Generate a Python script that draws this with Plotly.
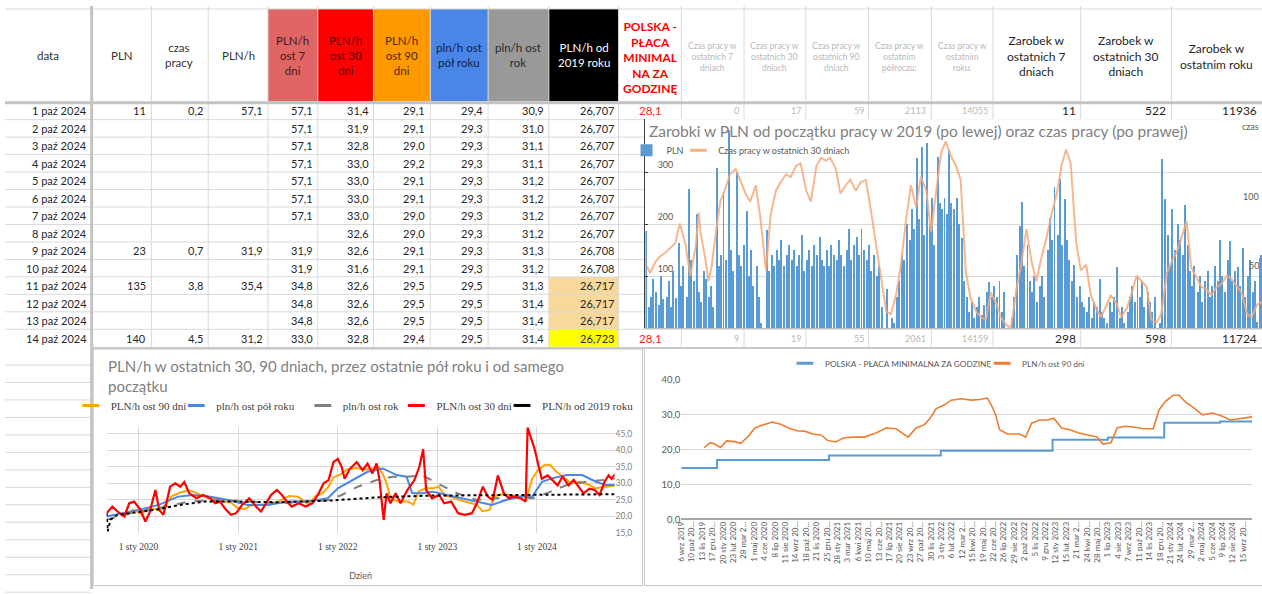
import plotly.graph_objects as go

W, H = 1262, 594
def px(x): return x / W
def py(y): return 1 - y / H

# ---------------- spreadsheet data ----------------
row_labels = ["1 paź 2024", "2 paź 2024", "3 paź 2024", "4 paź 2024", "5 paź 2024", "6 paź 2024",
              "7 paź 2024", "8 paź 2024", "9 paź 2024", "10 paź 2024", "11 paź 2024", "12 paź 2024",
              "13 paź 2024", "14 paź 2024"]
row_iso = ["2024-10-01", "2024-10-02", "2024-10-03", "2024-10-04", "2024-10-05", "2024-10-06", "2024-10-07",
           "2024-10-08", "2024-10-09", "2024-10-10", "2024-10-11", "2024-10-12", "2024-10-13", "2024-10-14"]
pln = [11, None, None, None, None, None, None, None, 23, None, 135, None, None, 140]
czas_pracy = [0.2, None, None, None, None, None, None, None, 0.7, None, 3.8, None, None, 4.5]
pln_h = [57.1, None, None, None, None, None, None, None, 31.9, None, 35.4, None, None, 31.2]
pln_h_7 = [57.1, 57.1, 57.1, 57.1, 57.1, 57.1, 57.1, None, 31.9, 31.9, 34.8, 34.8, 34.8, 33.0]
pln_h_30 = [31.4, 31.9, 32.8, 33.0, 33.0, 33.0, 33.0, 32.6, 32.6, 31.6, 32.6, 32.6, 32.6, 32.8]
pln_h_90 = [29.1, 29.1, 29.0, 29.2, 29.1, 29.1, 29.0, 29.0, 29.1, 29.1, 29.5, 29.5, 29.5, 29.4]
pln_h_half = [29.4, 29.3, 29.3, 29.3, 29.3, 29.3, 29.3, 29.3, 29.3, 29.3, 29.5, 29.5, 29.5, 29.5]
pln_h_year = [30.9, 31.0, 31.1, 31.1, 31.2, 31.2, 31.2, 31.2, 31.3, 31.2, 31.3, 31.4, 31.4, 31.4]
pln_h_all = [26.707, 26.707, 26.707, 26.707, 26.707, 26.707, 26.707, 26.707, 26.708, 26.708,
             26.717, 26.717, 26.717, 26.723]
summary_first = [28.1, 0, 17, 59, 2113, 14055, 11, 522, 11936]
summary_last = [28.1, 9, 19, 55, 2061, 14159, 298, 598, 11724]

# ---------------- chart 1: daily earnings + hours in last 30 days ----------------
bar_days = [4, 11, 18, 25]
pln_months = ["2019-09", "2019-10", "2019-11", "2019-12",
              "2020-01", "2020-02", "2020-03", "2020-04", "2020-05", "2020-06", "2020-07", "2020-08",
              "2020-09", "2020-10", "2020-11", "2020-12",
              "2021-01", "2021-02", "2021-03", "2021-04", "2021-05", "2021-06", "2021-07", "2021-08",
              "2021-09", "2021-10", "2021-11", "2021-12",
              "2022-01", "2022-02", "2022-03", "2022-04", "2022-05", "2022-06", "2022-07", "2022-08",
              "2022-09", "2022-10", "2022-11", "2022-12",
              "2023-01", "2023-02", "2023-03", "2023-04", "2023-05", "2023-06", "2023-07", "2023-08",
              "2023-09", "2023-10", "2023-11", "2023-12",
              "2024-01", "2024-02", "2024-03", "2024-04", "2024-05", "2024-06", "2024-07", "2024-08",
              "2024-09"]
pln_weekly = [
    [187, 40, 60, 95], [70, 45, 100, 55], [60, 90, 40, 110], [57, 164, 80, 120],
    [60, 268, 130, 90], [220, 70, 50, 110], [94, 60, 80, 40], [309, 120, 140, 262],
    [130, 381, 150, 110], [300, 140, 120, 160], [226, 100, 150, 80], [120, 60, 10, 0],
    [189, 110, 140, 120], [150, 130, 170, 120], [140, 160, 130, 150], [120, 140, 180, 110],
    [130, 150, 120, 160], [140, 175, 130, 120], [150, 120, 160, 140], [130, 170, 140, 120],
    [150, 190, 130, 160], [175, 140, 190, 150], [130, 160, 110, 140], [100, 120, 40, 0],
    [75, 0, 20, 10], [60, 90, 140, 130], [200, 170, 230, 190], [328, 210, 349, 180],
    [357, 200, 250, 160], [330, 240, 230, 250], [220, 343, 240, 230], [250, 200, 174, 90],
    [60, 30, 50, 20], [40, 60, 25, 45], [70, 89, 60, 80], [60, 90, 30, 70],
    [0, 0, 20, 60], [140, 196, 243, 120], [160, 90, 70, 100], [50, 80, 100, 60],
    [150, 211, 170, 271], [180, 287, 160, 249], [170, 130, 90, 122], [60, 80, 50, 40],
    [30, 60, 20, 50], [40, 94, 30, 20], [10, 50, 30, 60], [117, 20, 40, 10],
    [30, 60, 80, 50], [98, 60, 90, 40], [70, 50, 30, 60], [0, 10, 325, 249],
    [180, 120, 230, 150], [200, 170, 140, 236], [160, 110, 80, 120], [70, 100, 50, 90],
    [110, 60, 80, 120], [90, 170, 100, 70], [130, 168, 90, 110], [117, 80, 155, 60],
    [100, 130, 70, 90]]

czas30_dates = ["2019-09-06", "2019-09-15", "2019-10-01", "2019-10-15", "2019-11-01", "2019-11-15",
                "2019-12-01", "2019-12-10", "2019-12-15",
                "2020-01-01", "2020-01-15", "2020-02-01", "2020-02-10", "2020-02-15", "2020-03-01",
                "2020-03-10", "2020-03-20", "2020-04-01", "2020-04-15", "2020-05-01", "2020-05-15",
                "2020-06-01", "2020-06-15", "2020-07-01", "2020-07-15", "2020-08-01", "2020-08-15",
                "2020-09-01", "2020-09-15", "2020-10-01", "2020-10-15", "2020-11-01", "2020-11-15",
                "2020-12-01", "2020-12-15",
                "2021-01-01", "2021-01-15", "2021-02-01", "2021-02-15", "2021-03-01", "2021-03-15",
                "2021-04-01", "2021-04-15", "2021-05-01", "2021-05-15", "2021-06-01", "2021-06-15",
                "2021-07-01", "2021-07-15", "2021-08-01", "2021-08-15", "2021-09-01", "2021-09-15",
                "2021-10-01", "2021-10-15", "2021-11-01", "2021-11-15", "2021-12-01", "2021-12-15",
                "2022-01-01", "2022-01-15", "2022-02-01", "2022-02-15", "2022-03-01", "2022-03-15",
                "2022-04-01", "2022-04-15", "2022-05-01", "2022-05-15", "2022-06-01", "2022-06-15",
                "2022-07-01", "2022-07-15", "2022-08-01", "2022-08-15", "2022-09-01", "2022-09-15",
                "2022-10-01", "2022-10-15", "2022-11-01", "2022-11-15", "2022-12-01", "2022-12-15",
                "2023-01-01", "2023-01-15", "2023-02-01", "2023-02-15", "2023-03-01", "2023-03-15",
                "2023-04-01", "2023-04-15", "2023-05-01", "2023-05-15", "2023-06-01", "2023-06-15",
                "2023-07-01", "2023-07-15", "2023-08-01", "2023-08-15", "2023-09-01", "2023-09-15",
                "2023-10-01", "2023-10-15", "2023-11-01", "2023-11-15", "2023-12-01", "2023-12-15",
                "2024-01-01", "2024-01-15", "2024-02-01", "2024-02-15", "2024-03-01", "2024-03-15",
                "2024-04-01", "2024-04-15", "2024-05-01", "2024-05-15", "2024-06-01", "2024-06-15",
                "2024-07-01", "2024-07-15", "2024-08-01", "2024-08-15", "2024-09-01", "2024-09-15",
                "2024-10-01", "2024-10-14"]
czas30_vals = [45, 40, 48, 52, 55, 58, 62, 72, 76,
               60, 38, 60, 84, 70, 50, 34, 45, 68, 92, 102, 112, 116, 108, 98, 92, 104, 80, 42, 82,
               100, 106, 112, 110, 118, 120,
               100, 92, 118, 124, 122, 124, 116, 98, 104, 108, 100, 106, 108, 88, 62, 38, 12, 10,
               24, 45, 80, 104, 88, 110,
               100, 70, 104, 128, 136, 126, 118, 108, 40, 22, 12, 8, 6, 26, 18, 8, 2, 0,
               28, 45, 72, 50, 34, 50,
               66, 82, 98, 118, 130, 120, 62, 42, 46, 24, 14, 8, 16, 24, 18, 8, 14, 24,
               38, 34, 30, 6, 4, 10,
               40, 48, 56, 66, 78, 44, 36, 30, 28, 24, 30, 32, 38, 36, 30, 26, 10, 8, 17, 19]

# ---------------- chart 2: PLN/h averages ----------------
o90_dates = ["2019-11-20", "2019-12-10", "2019-12-23",
             "2020-01-12", "2020-02-01", "2020-02-27", "2020-03-18", "2020-04-13", "2020-05-03",
             "2020-05-29", "2020-06-30", "2020-07-27", "2020-08-22", "2020-09-17", "2020-10-13",
             "2020-11-09", "2020-12-05", "2020-12-28",
             "2021-01-23", "2021-02-18", "2021-03-23", "2021-04-25", "2021-06-03", "2021-07-06",
             "2021-08-08", "2021-09-03", "2021-09-16", "2021-10-12", "2021-11-08", "2021-11-27",
             "2021-12-17",
             "2022-01-12", "2022-02-04", "2022-03-09", "2022-04-11", "2022-05-07", "2022-06-02",
             "2022-06-15", "2022-06-29", "2022-07-12", "2022-08-07", "2022-09-15", "2022-10-05",
             "2022-10-25", "2022-11-20", "2022-12-16",
             "2023-01-05", "2023-01-31", "2023-02-26", "2023-03-28", "2023-04-30", "2023-05-26",
             "2023-06-15", "2023-07-11", "2023-07-31", "2023-08-26", "2023-09-21", "2023-10-24",
             "2023-11-26", "2023-12-15",
             "2024-01-04", "2024-01-30", "2024-02-19", "2024-03-09", "2024-04-05", "2024-05-05",
             "2024-06-07", "2024-07-09", "2024-08-04", "2024-08-30", "2024-09-25", "2024-10-14"]
o90_vals = [20.6, 22.0, 21.7,
            20.6, 22.5, 22.3, 21.8, 23.9, 26.2, 27.1, 27.9, 27.3, 26.2, 25.4, 25.3, 24.5, 24.2, 22.6,
            22.2, 23.4, 23.6, 23.6, 24.8, 26.2, 26.0, 24.5, 23.6, 26.2, 27.1, 29.0, 31.8,
            32.8, 34.2, 34.6, 34.2, 34.4, 34.8, 32.8, 30.0, 25.7, 24.5, 24.5, 23.6, 27.6, 28.5, 28.5,
            29.0, 26.2, 25.7, 24.8, 24.2, 23.6, 21.6, 22.0, 26.2, 26.7, 26.5, 26.0, 26.0, 31.4,
            33.8, 35.6, 35.6, 33.8, 32.1, 30.0, 30.5, 29.6, 28.5, 28.8, 29.2, 29.4]

half_dates = ["2019-09-06", "2020-01-01", "2020-03-15", "2020-05-25", "2020-07-20", "2020-09-15",
              "2020-11-25", "2021-02-05", "2021-04-20", "2021-07-01", "2021-09-15", "2021-11-25",
              "2022-01-01", "2022-02-25", "2022-04-20", "2022-06-15", "2022-08-05", "2022-09-10",
              "2022-10-01", "2022-11-05", "2022-12-15", "2023-02-05", "2023-04-01", "2023-05-25",
              "2023-07-20", "2023-09-10", "2023-11-05", "2023-12-15", "2024-01-20", "2024-02-25",
              "2024-04-20", "2024-06-15", "2024-08-05", "2024-09-10", "2024-10-14"]
half_vals = [20, 22, 23.5, 26, 26.5, 26, 25, 23.5, 23.5, 24.5, 24.5, 25.5,
             28.5, 31, 33.5, 34.5, 32.5, 32, 27, 27, 27.5, 26.5, 25.5, 24.5,
             23.5, 25, 26, 26, 30.5, 31.5, 32.5, 32.5, 30.5, 29.5, 29.5]

year_dates = ["2019-09-06", "2019-12-01", "2020-03-15", "2020-07-01", "2020-11-01", "2021-02-15",
              "2021-06-01", "2021-09-15", "2021-12-01", "2022-01-15", "2022-03-15", "2022-05-25",
              "2022-07-20", "2022-09-15", "2022-11-05", "2023-01-01", "2023-03-15", "2023-05-25",
              "2023-08-01", "2023-10-15", "2023-12-15", "2024-02-05", "2024-04-20", "2024-07-01",
              "2024-10-14"]
year_vals = [19, 21, 22.5, 24.5, 25, 24.5, 24, 24.5, 25, 26.5, 29, 31,
             32, 32, 32.5, 30, 27, 25, 25.5, 26, 25.5, 27, 29.5, 30.5, 31.4]

all_dates = ["2019-09-06", "2019-09-10", "2019-09-20", "2019-10-15", "2019-12-01", "2020-03-01",
             "2020-06-01", "2020-09-01", "2021-01-01", "2021-06-01", "2021-12-01", "2022-06-01",
             "2022-12-01", "2023-06-01", "2023-12-01", "2024-06-01", "2024-10-14"]
all_vals = [21, 15.5, 19, 20.5, 21, 22, 23.5, 24.5, 24.5, 24.3, 24.8, 25.8,
            26.3, 26.4, 26.4, 26.6, 26.72]

r30_dates = ["2019-09-06", "2019-09-27", "2019-10-16", "2019-11-10", "2019-11-28", "2019-12-16",
             "2020-01-08", "2020-01-26", "2020-02-10", "2020-02-24", "2020-03-03", "2020-03-17",
             "2020-04-01", "2020-04-12", "2020-04-26", "2020-05-15", "2020-06-02", "2020-06-17",
             "2020-07-05", "2020-07-31", "2020-08-25", "2020-09-20", "2020-10-08", "2020-10-26",
             "2020-11-17", "2020-12-05", "2020-12-24",
             "2021-01-15", "2021-02-10", "2021-03-07", "2021-03-25", "2021-04-13", "2021-05-01",
             "2021-05-23", "2021-06-10", "2021-06-28", "2021-07-16", "2021-08-11", "2021-09-05",
             "2021-10-01", "2021-10-23", "2021-11-10", "2021-11-28", "2021-12-16",
             "2022-01-01", "2022-01-15", "2022-01-26", "2022-02-14", "2022-03-11", "2022-04-02",
             "2022-04-20", "2022-05-08", "2022-05-23", "2022-06-03", "2022-06-18", "2022-06-29",
             "2022-07-13", "2022-08-01", "2022-08-19", "2022-09-13", "2022-10-09", "2022-10-27",
             "2022-11-10", "2022-11-21", "2022-12-13",
             "2023-01-08", "2023-01-26", "2023-02-21", "2023-03-18", "2023-04-12", "2023-05-08",
             "2023-05-26", "2023-06-17", "2023-07-05", "2023-07-23", "2023-08-11", "2023-09-02",
             "2023-09-20", "2023-10-08", "2023-11-03", "2023-11-21", "2023-11-28", "2023-12-13",
             "2023-12-24",
             "2024-01-08", "2024-01-19", "2024-02-10", "2024-02-28", "2024-03-17", "2024-04-04",
             "2024-04-26", "2024-05-15", "2024-06-02", "2024-06-20", "2024-07-12", "2024-07-31",
             "2024-08-18", "2024-09-05", "2024-09-20", "2024-10-01", "2024-10-14"]
r30_vals = [21, 23, 21.5, 20, 24, 24.5,
            22, 18.5, 21, 25.5, 28, 22, 20.5, 24, 29, 30, 29, 30.4, 27, 25.5, 26.5, 25.5, 24, 24.5,
            22, 20.5, 21,
            23.5, 25.5, 23, 21.5, 24, 26.5, 28, 26.5, 24.5, 23, 24, 23, 24, 27, 30, 31, 36.4,
            37.4, 35, 31.4, 34.4, 36.4, 34, 36, 33, 36, 31, 19, 27, 24, 27, 24, 28, 31, 35, 40.3,
            28, 25.5,
            26.5, 24, 24.5, 21, 20.5, 21, 24, 29, 26, 25, 32.4, 27, 25.5, 26, 25.5, 24.5, 46.8,
            42.8, 40.3,
            35, 31.4, 32.4, 31, 29.4, 32, 29.4, 31, 29, 27, 28.4, 28, 26.5, 30.4, 32.4, 31.4, 32.8]

year_tick_vals = ["2020-01-01", "2021-01-01", "2022-01-01", "2023-01-01", "2024-01-01"]
year_tick_text = ["1 sty 2020", "1 sty 2021", "1 sty 2022", "1 sty 2023", "1 sty 2024"]

# ---------------- chart 3: minimal wage vs PLN/h 90 days ----------------
minwage_dates = ["2019-09-06", "2020-01-01", "2021-01-01", "2022-01-01", "2023-01-01",
                 "2023-07-01", "2024-01-01", "2024-07-01", "2024-10-14"]
minwage_vals = [14.7, 17.0, 18.3, 19.7, 22.8, 23.5, 27.7, 28.1, 28.1]

cat_tick_vals = ["2019-09-06", "2019-10-10", "2019-11-13", "2019-12-17", "2020-01-20", "2020-02-23",
                 "2020-03-28", "2020-05-01", "2020-06-04", "2020-07-08", "2020-08-11", "2020-09-14",
                 "2020-10-18", "2020-11-21", "2020-12-25", "2021-01-28", "2021-03-03", "2021-04-06",
                 "2021-05-10", "2021-06-13", "2021-07-17", "2021-08-20", "2021-09-23", "2021-10-27",
                 "2021-11-30", "2022-01-03", "2022-02-06", "2022-03-12", "2022-04-15", "2022-05-19",
                 "2022-06-22", "2022-07-26", "2022-08-29", "2022-10-02", "2022-11-05", "2022-12-09",
                 "2023-01-12", "2023-02-15", "2023-03-21", "2023-04-24", "2023-05-28", "2023-07-01",
                 "2023-08-04", "2023-09-07", "2023-10-11", "2023-11-14", "2023-12-18", "2024-01-21",
                 "2024-02-24", "2024-03-29", "2024-05-02", "2024-06-05", "2024-07-09", "2024-08-12",
                 "2024-09-15"]
cat_tick_text = ["6 wrz 2019", "10 paź 20...", "13 lis 2019", "17 gru 20...", "20 sty 2020",
                 "23 lut 2020", "28 mar 2...", "1 maj 2020", "4 cze 2020", "8 lip 2020", "11 sie 2020",
                 "14 wrz 20...", "18 paź 20...", "21 lis 2020", "25 gru 20...", "28 sty 2021",
                 "3 mar 2021", "6 kwi 2021", "10 maj 20...", "13 cze 20...", "17 lip 2021",
                 "20 sie 2021", "23 wrz 20...", "27 paź 20...", "30 lis 2021", "3 sty 2022",
                 "6 lut 2022", "12 mar 2...", "15 kwi 20...", "19 maj 20...", "22 cze 20...",
                 "26 lip 2022", "29 sie 2022", "2 paź 2022", "5 lis 2022", "9 gru 2022",
                 "12 sty 2023", "15 lut 2023", "21 mar 2...", "24 kwi 20...", "28 maj 20...",
                 "1 lip 2023", "4 sie 2023", "7 wrz 2023", "11 paź 20...", "14 lis 2023",
                 "18 gru 20...", "21 sty 2024", "24 lut 2024", "29 mar 2...", "2 maj 2024",
                 "5 cze 2024", "9 lip 2024", "12 sie 2024", "15 wrz 20..."]

# ================================================================
FONT = "Lato"
SERIF = "Liberation Serif"
GRID = "#d9d9d9"
fig = go.Figure()

# ---- chart 1 traces ----
bar_x, bar_y = [], []
for m, vals in zip(pln_months, pln_weekly):
    for d, v in zip(bar_days, vals):
        bar_x.append(f"{m}-{d:02d}")
        bar_y.append(v)
for d, v in zip(row_iso, pln):
    if v is not None:
        bar_x.append(d)
        bar_y.append(v)
fig.add_trace(go.Bar(x=bar_x, y=bar_y, width=6 * 86400000, marker=dict(color="#5B9BD5", line_width=0),
                     name="PLN", xaxis="x", yaxis="y", legend="legend"))
fig.add_trace(go.Scatter(x=czas30_dates, y=czas30_vals, mode="lines", line=dict(color="rgba(244,170,125,0.85)", width=2),
                         name="Czas pracy w ostatnich 30 dniach", xaxis="x", yaxis="y2", showlegend=False))
fig.add_trace(go.Scatter(x=[None], y=[None], mode="markers", name="Czas pracy w ostatnich 30 dniach",
                         marker=dict(symbol="line-ew", size=12, line=dict(color="#F4B183", width=3)),
                         xaxis="x", yaxis="y2", legend="legend2"))

# ---- chart 2 traces ----
c2 = [
    ("PLN/h ost 90 dni", o90_dates, o90_vals, "#FFA500", "solid", 2, "legend3"),
    ("pln/h ost pół roku", half_dates, half_vals, "#4A86E8", "solid", 2, "legend4"),
    ("pln/h ost rok", year_dates, year_vals, "#7F7F7F", "dash", 2, "legend5"),
    ("PLN/h ost 30 dni", r30_dates, r30_vals, "#FF0000", "solid", 2.2, "legend6"),
    ("PLN/h od 2019 roku", all_dates, all_vals, "#000000", "dot", 2, "legend7"),
]
for name, xs, ys, col, dash, wdt, lg in c2:
    fig.add_trace(go.Scatter(x=xs, y=ys, mode="lines", line=dict(color=col, width=wdt, dash=dash),
                             name=name, xaxis="x2", yaxis="y3", showlegend=False))
    fig.add_trace(go.Scatter(x=[None], y=[None], mode="markers", name=name,
                             marker=dict(symbol="line-ew", size=12, line=dict(color=col, width=3)),
                             xaxis="x2", yaxis="y3", legend=lg))

# ---- chart 3 traces ----
fig.add_trace(go.Scatter(x=minwage_dates, y=minwage_vals, mode="lines", line=dict(color="#5B9BD5", width=2, shape="hv"),
                         name="POLSKA - PŁACA MINIMALNA ZA GODZINĘ", xaxis="x3", yaxis="y4", showlegend=False))
fig.add_trace(go.Scatter(x=o90_dates, y=o90_vals, mode="lines", line=dict(color="#ED7D31", width=1.6),
                         name="PLN/h ost 90 dni", xaxis="x3", yaxis="y4", showlegend=False))
fig.add_trace(go.Scatter(x=[None], y=[None], mode="markers", name="POLSKA - PŁACA MINIMALNA ZA GODZINĘ",
                         marker=dict(symbol="line-ew", size=12, line=dict(color="#5B9BD5", width=3)),
                         xaxis="x3", yaxis="y4", legend="legend8"))
fig.add_trace(go.Scatter(x=[None], y=[None], mode="markers", name="PLN/h ost 90 dni",
                         marker=dict(symbol="line-ew", size=12, line=dict(color="#ED7D31", width=3)),
                         xaxis="x3", yaxis="y4", legend="legend9"))

# ---------------- shapes: spreadsheet grid ----------------
shapes = []
def line(x0, y0, x1, y1, color=GRID, width=1):
    shapes.append(dict(type="line", xref="paper", yref="paper", x0=px(x0), y0=py(y0), x1=px(x1), y1=py(y1),
                       line=dict(color=color, width=width), layer="below"))
def rect(x0, y0, x1, y1, fill, lc=None, lw=0):
    shapes.append(dict(type="rect", xref="paper", yref="paper", x0=px(x0), y0=py(y0), x1=px(x1), y1=py(y1),
                       fillcolor=fill, line=dict(color=lc or fill, width=lw), layer="below"))

COLS = [87, 147, 204, 264, 314, 370, 427, 485, 546, 616, 679, 742, 804, 867, 930, 992, 1080, 1171, 1262]
R0, RH = 98.0, 17.8
def rtop(i): return R0 + i * RH

header_fills = {4: "#E06666", 5: "#FF0000", 6: "#FF9900", 7: "#4A86E8", 8: "#999999", 9: "#000000"}
for ci, colr in header_fills.items():
    rect(COLS[ci - 1], 3, COLS[ci], 97, colr)
rect(546, rtop(10), 616, rtop(13), "#F9D89C")
rect(546, rtop(13), 616, rtop(14), "#FFFF00")

for c in COLS[1:-1]:
    line(c, 0, c, rtop(14))
line(0, 3, W, 3)
for i in range(1, 14):
    line(0, rtop(i), W, rtop(i))
for k in range(1, 15):
    line(0, 348 + k * RH, 86, 348 + k * RH)

rect(643, 115.5, W, rtop(13) - 0.5, "white")
rect(88.5, 349.5, W, H, "white")
line(0, 98.5, W, 98.5, "#c3c3c3", 3)
line(87, 0, 87, H, "#c3c3c3", 3)
line(87, 348.5, W, 348.5, "#c8c8c8", 2)
shapes.append(dict(type="rect", xref="paper", yref="paper", x0=px(88.5), y0=py(590.5), x1=px(640), y1=py(349.5),
                   line=dict(color="#c8c8c8", width=1), fillcolor="rgba(0,0,0,0)", layer="below"))
line(642, 349.5, 642, 591, "#c8c8c8", 1)
line(642, 590.5, W, 590.5, "#c8c8c8", 1)

# ---------------- annotations ----------------
ann = []
def text(x, y, s, size=11, color="#262626", xanchor="center", family=FONT, bold=False, align="center"):
    ann.append(dict(x=px(x), y=py(y), xref="paper", yref="paper", text=(f"<b>{s}</b>" if bold else s),
                    showarrow=False, xanchor=xanchor, yanchor="middle",
                    font=dict(family=family, size=size, color=color), align=align))

def fmt(v, dec):
    if v is None:
        return ""
    return f"{v:.{dec}f}".replace(".", ",")

text(43, 50, "data", 11.5, "#333")
text(117, 50, "PLN", 11.5, "#333")
text(175, 50, "czas<br>pracy", 11.5, "#333")
text(234, 50, "PLN/h", 11.5, "#333")
text(289, 50, "PLN/h<br>ost 7<br>dni", 11.5, "#4a1414")
text(342, 50, "PLN/h<br>ost 30<br>dni", 11.5, "#4a0000")
text(398, 50, "PLN/h<br>ost 90<br>dni", 11.5, "#4a2a00")
text(456, 50, "pln/h ost<br>pół roku", 11.5, "#10204a")
text(515, 50, "pln/h ost<br>rok", 11.5, "#2a2a2a")
text(581, 50, "PLN/h od<br>2019 roku", 11.5, "#ffffff")
text(648, 52, "POLSKA -<br>PŁACA<br>MINIMAL<br>NA ZA<br>GODZINĘ", 12, "#FF0000", bold=True)
for cx, s in [(710, "Czas pracy w<br>ostatnich 7<br>dniach"), (773, "Czas pracy w<br>ostatnich 30<br>dniach"),
              (835, "Czas pracy w<br>ostatnich 90<br>dniach"), (898, "Czas pracy w<br>ostatnim<br>półroczu:"),
              (961, "Czas pracy w<br>ostatnim<br>roku:")]:
    text(cx, 52, s, 8.5, "#b8b8b8")
text(1036, 51, "Zarobek w<br>ostatnich 7<br>dniach", 12, "#262626")
text(1125, 51, "Zarobek w<br>ostatnich 30<br>dniach", 12, "#262626")
text(1216, 51, "Zarobek w<br>ostatnim roku", 12, "#262626")

cols_data = [(pln, 0, 144), (czas_pracy, 1, 201), (pln_h, 1, 261), (pln_h_7, 1, 311), (pln_h_30, 1, 367),
             (pln_h_90, 1, 424), (pln_h_half, 1, 482), (pln_h_year, 1, 543), (pln_h_all, 3, 613)]
for i, lab in enumerate(row_labels):
    yc = rtop(i) + RH / 2
    text(84, yc, lab, 11, "#262626", xanchor="right")
    for arr, dec, xr in cols_data:
        s = fmt(arr[i], dec)
        if s:
            text(xr, yc, s, 11, "#262626", xanchor="right")

right_cols = [742, 804, 867, 930, 992, 1080, 1171, 1262]
for i, arr in [(0, summary_first), (13, summary_last)]:
    yc = rtop(i) + RH / 2
    text(648, yc, fmt(arr[0], 1), 11.5, "#FF2020")
    for j, v in enumerate(arr[1:]):
        colr = "#b8b8b8" if j < 5 else "#262626"
        size = 9 if j < 5 else 12
        text(right_cols[j] - 3, yc, str(v), size, colr, xanchor="right")

text(645, 127, "Zarobki w PLN od początku pracy w 2019 (po lewej) oraz czas pracy (po prawej)", 15.5, "#808080",
     xanchor="left")
text(101, 377, "PLN/h w ostatnich 30, 90 dniach, przez ostatnie pół roku i od samego<br>początku", 15, "#808080",
     xanchor="left", align="left")

# right-hand axis labels of chart 1 (kept fully inside the window)
text(1261, 123, "czas", 9, "#595959", xanchor="right")
for v in [100, 50]:
    ann.append(dict(x=px(1261), y=v, xref="paper", yref="y2", text=str(v), showarrow=False, xanchor="right",
                    yanchor="middle", yshift=-6, font=dict(family=FONT, size=9, color="#595959")))

# ---------------- layout ----------------
def lg(x, y, size, family, color):
    return dict(x=px(x), y=py(y), xanchor="left", yanchor="middle", bgcolor="rgba(0,0,0,0)", borderwidth=0,
                itemwidth=30, font=dict(family=family, size=size, color=color), orientation="h")

fig.update_layout(
    width=W, height=H, margin=dict(l=0, r=0, t=0, b=0),
    paper_bgcolor="white", plot_bgcolor="rgba(0,0,0,0)",
    separators=", ", showlegend=True, bargap=0,
    font=dict(family=FONT, color="#404040"),
    shapes=shapes, annotations=ann,
    xaxis=dict(domain=[px(643), 1], range=["2019-09-01", "2024-10-16"], anchor="y", showticklabels=False,
               showgrid=False, zeroline=False, showline=True, linecolor="#bfbfbf", linewidth=1, ticks=""),
    yaxis=dict(domain=[py(328), py(115.5)], range=[0, 402], anchor="x", tickvals=[100, 200, 300],
               showgrid=True, gridcolor=GRID, zeroline=False, showline=True, linecolor="#404040", linewidth=1.5,
               ticks="inside", ticklen=3, tickcolor="#404040", ticklabelposition="inside", ticklabelshift=-7,
               ticklabelstandoff=8, tickfont=dict(family=FONT, size=9, color="#595959")),
    yaxis2=dict(overlaying="y", side="right", anchor="x", range=[0, 152], showgrid=False, showticklabels=False,
                zeroline=False, showline=False),
    xaxis2=dict(domain=[px(102), px(612)], range=["2019-09-06", "2024-10-12"], anchor="y3",
                tickvals=year_tick_vals, ticktext=year_tick_text, showgrid=True, gridcolor=GRID,
                zeroline=False, showline=False, ticks="", ticklabelstandoff=6,
                tickfont=dict(family=SERIF, size=9.5, color="#404040"),
                title=dict(text="Dzień", font=dict(family=FONT, size=9, color="#595959"), standoff=22)),
    yaxis3=dict(domain=[py(537), py(429)], range=[15, 47], anchor="x2", side="right",
                tickvals=[15, 20, 25, 30, 35, 40, 45], tickformat=".1f", showgrid=True, gridcolor=GRID,
                zeroline=False, showline=False, ticks="", tickfont=dict(family=FONT, size=8.5, color="#7f7f7f")),
    xaxis3=dict(domain=[px(679), px(1252)], range=["2019-09-06", "2024-10-14"], anchor="y4",
                tickvals=cat_tick_vals, ticktext=cat_tick_text, tickangle=-90, showgrid=False, zeroline=False,
                showline=False, ticks="", tickfont=dict(family=FONT, size=8, color="#595959")),
    yaxis4=dict(domain=[py(523), py(381)], range=[0, 40], anchor="x3", dtick=10, tickformat=".1f",
                showgrid=True, gridcolor=GRID, zeroline=True, zerolinecolor="#a6a6a6", zerolinewidth=2,
                showline=False, ticks="", tickfont=dict(family=FONT, size=9.5, color="#595959")),
    legend=lg(624, 147, 9, FONT, "#595959"),
    legend2=lg(676, 147, 9, FONT, "#595959"),
    legend3=lg(66, 407, 11, SERIF, "#404040"),
    legend4=lg(172, 407, 11, SERIF, "#404040"),
    legend5=lg(299, 407, 11, SERIF, "#404040"),
    legend6=lg(393, 407, 11, SERIF, "#404040"),
    legend7=lg(499, 407, 11, SERIF, "#404040"),
    legend8=lg(783, 364, 8.3, FONT, "#595959"),
    legend9=lg(981, 364, 8.3, FONT, "#595959"),
)

fig.write_html("out.html", config={"displayModeBar": False, "staticPlot": True})
# remove the browser's default page margin so the figure sits at the window's top-left corner
with open("out.html", encoding="utf-8") as f:
    html = f.read()
html = html.replace("<body>", '<body style="margin:0;overflow:hidden">', 1)
with open("out.html", "w", encoding="utf-8") as f:
    f.write(html)
